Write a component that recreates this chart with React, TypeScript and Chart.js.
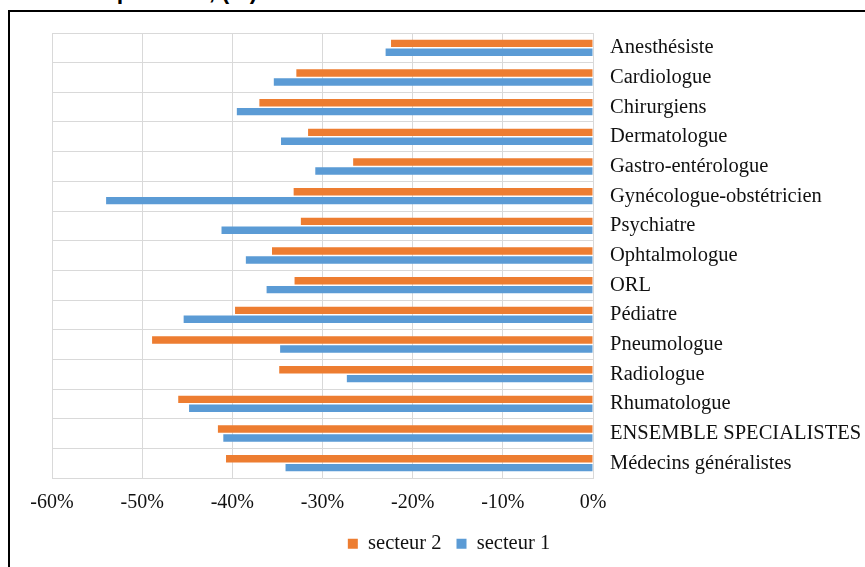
import { useEffect, useRef } from "react";
import { Chart, registerables } from "chart.js";

Chart.register(...registerables);

const categories = [
  "Anesthésiste",
  "Cardiologue",
  "Chirurgiens",
  "Dermatologue",
  "Gastro-entérologue",
  "Gynécologue-obstétricien",
  "Psychiatre",
  "Ophtalmologue",
  "ORL",
  "Pédiatre",
  "Pneumologue",
  "Radiologue",
  "Rhumatologue",
  "ENSEMBLE SPECIALISTES",
  "Médecins généralistes",
];

const secteur2 = [-22.4, -32.9, -37.0, -31.6, -26.6, -33.2, -32.4, -35.6, -33.1, -39.7, -48.9, -34.8, -46.0, -41.6, -40.7];
const secteur1 = [-23.0, -35.4, -39.5, -34.6, -30.8, -54.0, -41.2, -38.5, -36.2, -45.4, -34.7, -27.3, -44.8, -41.0, -34.1];

const xMin = -60;
const xMax = 0;
const xStep = 10;

const seriesLabels = ["secteur 2", "secteur 1"];
const titleFragment = "spécialité, (%)";

export default function App() {
  const ref = useRef<HTMLCanvasElement>(null);

  useEffect(() => {
    if (!ref.current) return;
    const family = "'Liberation Serif', 'Times New Roman', serif";
    const labelFont = { family, size: 20.5 };
    const tickFont = { family, size: 20 };
    const gridColor = "#d9d9d9";
    const textColor = "#111111";
    const chart = new Chart(ref.current, {
      type: "bar",
      data: {
        labels: categories,
        datasets: [
          {
            label: seriesLabels[0],
            data: secteur2,
            backgroundColor: "#ED7D31",
            borderWidth: 0,
            categoryPercentage: 0.6,
            barPercentage: 0.84,
          },
          {
            label: seriesLabels[1],
            data: secteur1,
            backgroundColor: "#5B9BD5",
            borderWidth: 0,
            categoryPercentage: 0.6,
            barPercentage: 0.84,
          },
        ],
      },
      options: {
        indexAxis: "y",
        responsive: false,
        animation: false,
        layout: { padding: { left: 33, top: 33, right: 0, bottom: 3 } },
        scales: {
          x: {
            min: xMin,
            max: xMax,
            ticks: {
              stepSize: xStep,
              callback: (v: any) => `${v}%`,
              font: tickFont,
              color: textColor,
              padding: 13,
              maxRotation: 0,
            },
            grid: { color: gridColor, drawTicks: false },
            border: { display: false },
            afterFit: (s: any) => {
              s.height = 40.5;
            },
          },
          y: {
            position: "right",
            ticks: { font: labelFont, color: textColor, padding: 17, autoSkip: false },
            grid: { color: gridColor, drawTicks: false, offset: true },
            border: { color: gridColor },
            afterFit: (s: any) => {
              s.width = 272;
            },
          },
          leftSpace: {
            type: "linear",
            position: "left",
            display: true,
            grid: { display: false, drawTicks: false },
            ticks: { display: false },
            border: { display: false },
            afterFit: (s: any) => {
              s.width = 19;
            },
          },
        },
        plugins: {
          legend: {
            position: "bottom",
            labels: {
              boxWidth: 10,
              boxHeight: 10,
              padding: 15,
              font: labelFont,
              color: textColor,
            },
          },
          tooltip: { enabled: false },
        },
      },
    });
    return () => chart.destroy();
  }, []);

  return (
    <div
      style={{
        position: "fixed",
        left: 0,
        top: 0,
        width: 865,
        height: 567,
        background: "#fff",
        overflow: "hidden",
      }}
    >
      <div
        style={{
          position: "absolute",
          left: 104,
          top: -20,
          fontFamily: "'Liberation Sans', Arial, sans-serif",
          fontWeight: "bold",
          fontSize: 23,
          lineHeight: "23px",
          whiteSpace: "nowrap",
          color: "#000",
        }}
      >
        {titleFragment}
      </div>
      <div
        style={{
          position: "absolute",
          left: 8,
          top: 10,
          width: 900,
          height: 600,
          borderTop: "2px solid #000",
          borderLeft: "2px solid #000",
          boxSizing: "border-box",
        }}
      />
      <canvas
        ref={ref}
        width={865}
        height={567}
        style={{ position: "absolute", left: 0, top: 0, display: "block" }}
      />
    </div>
  );
}
